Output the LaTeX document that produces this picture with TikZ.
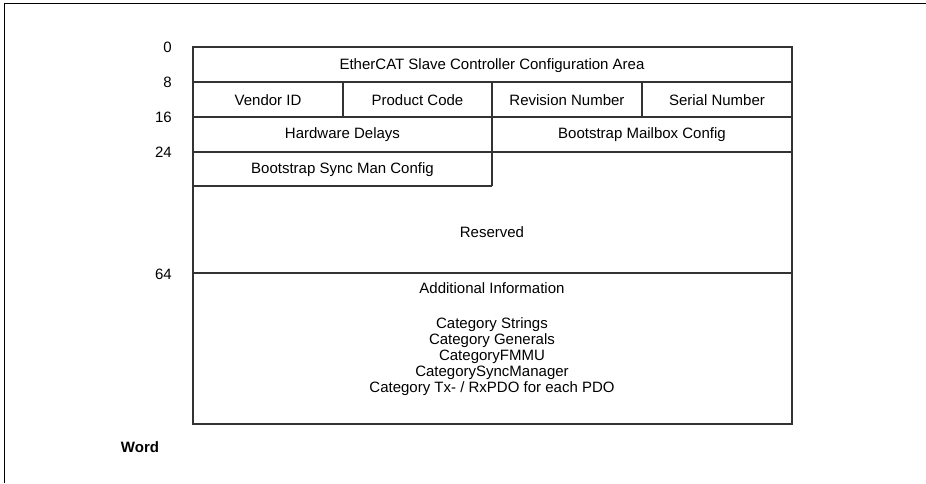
\documentclass[tikz,border=0pt]{standalone}
\usepackage{fontspec}
\setmainfont{Liberation Sans}
\begin{document}
\begin{tikzpicture}[x=0.75pt,y=-0.75pt,
  field/.style={font=\fontsize{11.25}{12}\selectfont,inner sep=0pt},
  offset/.style={anchor=east,font=\fontsize{11.25}{12}\selectfont,inner sep=0pt},
  grid/.style={color=black!80,line width=0.8pt}]
\useasboundingbox (0,0) rectangle (926,483);
\draw[color=black,line width=1.1pt] (4.5,483) -- (4.5,3.5) -- (926,3.5);
% memory layout
\draw[grid] (193,47) rectangle (792,424);
\draw[grid] (193,82) -- (792,82);
\draw[grid] (193,117) -- (792,117);
\draw[grid] (193,152) -- (792,152);
\draw[grid] (193,186) -- (492,186);
\draw[grid] (193,273) -- (792,273);
\draw[grid] (343,82) -- (343,117);
\draw[grid] (642,82) -- (642,117);
\draw[grid] (492,82) -- (492,186);
\node[field] (esc) at (492,65.5) {EtherCAT Slave Controller Configuration Area};
\node[field] (vendor) at (268,100) {Vendor ID};
\node[field] (product) at (417.5,100) {Product Code};
\node[field] (revision) at (567,100) {Revision Number};
\node[field] (serial) at (717,100) {Serial Number};
\node[field] (hwdelay) at (342.5,135) {Hardware Delays};
\node[field] (mbxcfg) at (642,135) {Bootstrap Mailbox Config};
\node[field] (smcfg) at (342.5,170) {Bootstrap Sync Man Config};
\node[field] (reserved) at (492,232) {Reserved};
\node[field] (addinfo) at (492,288) {Additional Information};
\node[field,align=center] (categories) at (492,357) {Category Strings\\Category Generals\\CategoryFMMU\\CategorySyncManager\\Category Tx- / RxPDO for each PDO};
% word offsets
\node[offset] (w0) at (172,47.5) {0};
\node[offset] (w8) at (172,82) {8};
\node[offset] (w16) at (172,117) {16};
\node[offset] (w24) at (172,152) {24};
\node[offset] (w64) at (172,274) {64};
\node[field,font=\fontsize{11.25}{12}\selectfont\bfseries] (word) at (140,447) {Word};
\end{tikzpicture}
\end{document}
